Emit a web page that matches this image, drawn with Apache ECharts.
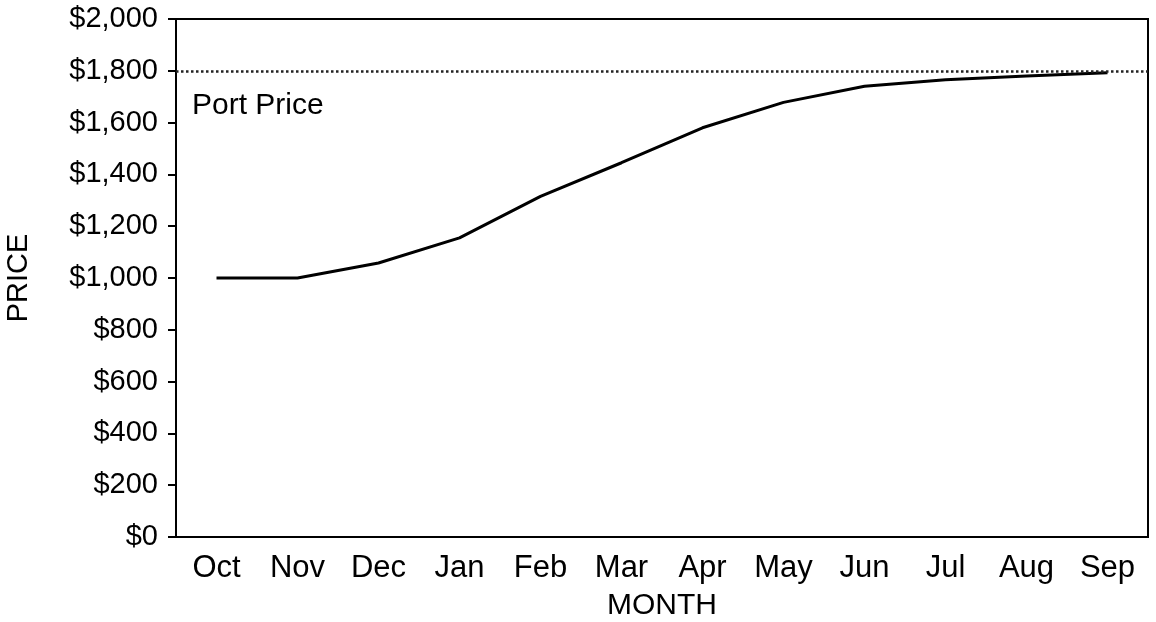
<!DOCTYPE html>
<html>
<head>
<meta charset="utf-8">
<script src="https://cdn.jsdelivr.net/npm/echarts@6/dist/echarts.min.js"></script>
<style>
    html, body { margin: 0; padding: 0; background: #fff; }
    #chart { width: 1156px; height: 622px; }
</style>
</head>
<body>
<div id="chart"></div>
<script>
// 图表数据
let months = ['Oct', 'Nov', 'Dec', 'Jan', 'Feb', 'Mar', 'Apr', 'May', 'Jun', 'Jul', 'Aug', 'Sep']
let prices = [1000, 1000, 1058, 1155, 1315, 1445, 1580, 1678, 1740, 1765, 1780, 1792]
let portPrice = 1800
let portLabel = 'Port Price'

let font = '"Liberation Sans", Arial, sans-serif'

function money(v) {
    return '$' + v.toLocaleString('en-US')
}

let myChart = echarts.init(document.getElementById('chart'))
myChart.setOption({
    animation: false,
    backgroundColor: '#fff',
    grid: {
        left: 176,
        top: 19,
        right: 8,
        bottom: 85,
        outerBoundsMode: 'none',
        containLabel: false,
        show: true,
        borderColor: '#000',
        borderWidth: 2
    },
    // x轴
    xAxis: {
        type: 'category',
        data: months,
        boundaryGap: true,
        name: 'MONTH',
        nameLocation: 'middle',
        nameGap: 54,
        nameTextStyle: { fontFamily: font, fontSize: 30, color: '#000', letterSpacing: -1.5 },
        axisLine: { lineStyle: { color: '#000', width: 2 } },
        axisTick: { alignWithLabel: true, length: 9, lineStyle: { color: '#000', width: 2 } },
        axisLabel: { fontFamily: font, fontSize: 31, color: '#000', margin: 16, letterSpacing: -1.5 },
        splitLine: { show: false }
    },
    // y轴
    yAxis: {
        type: 'value',
        min: 0,
        max: 2000,
        interval: 200,
        name: 'PRICE',
        nameLocation: 'middle',
        nameGap: 143,
        nameTextStyle: { fontFamily: font, fontSize: 29, color: '#000' },
        axisLine: { show: true, lineStyle: { color: '#000', width: 2 } },
        axisTick: { show: true, length: 8, lineStyle: { color: '#000', width: 2 } },
        axisLabel: { fontFamily: font, fontSize: 29, color: '#000', margin: 18, letterSpacing: -1.5, formatter: money },
        splitLine: { show: false }
    },
    series: [
        {
            type: 'line',
            data: prices,
            symbol: 'none',
            lineStyle: { color: '#000', width: 3 },
            markLine: {
                silent: true,
                symbol: 'none',
                data: [{ yAxis: portPrice }],
                lineStyle: { color: '#222', width: 2.5, type: 'dotted' },
                label: {
                    show: true,
                    position: 'insideStartBottom',
                    distance: [16, 20],
                    formatter: portLabel,
                    fontFamily: font,
                    fontSize: 30,
                    color: '#000',
                    letterSpacing: -0.5
                }
            }
        }
    ]
})
</script>
</body>
</html>
